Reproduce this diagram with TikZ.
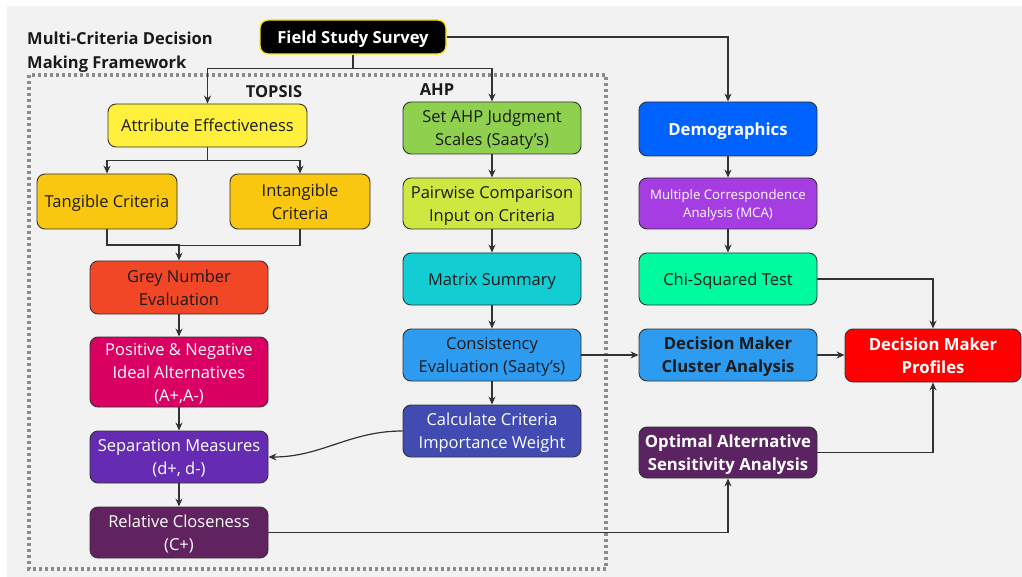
\documentclass[tikz,border=0pt]{standalone}
\usepackage{fontspec}
\setmainfont{Open Sans}
\usetikzlibrary{arrows.meta}
\definecolor{bgc}{HTML}{F2F2F2}
\definecolor{lnc}{HTML}{333333}
\definecolor{txc}{HTML}{1A1A1A}
\definecolor{cattr}{HTML}{FEF03C}
\definecolor{ctang}{HTML}{FAC710}
\definecolor{cgrey}{HTML}{F24726}
\definecolor{cpos}{HTML}{DA0063}
\definecolor{csep}{HTML}{652CB3}
\definecolor{crel}{HTML}{60235F}
\definecolor{cahp}{HTML}{8FD14F}
\definecolor{cpair}{HTML}{CEE741}
\definecolor{cmat}{HTML}{12CDD4}
\definecolor{ccons}{HTML}{2D9BF0}
\definecolor{ccalc}{HTML}{414BB2}
\definecolor{cdemo}{HTML}{0062FF}
\definecolor{cmca}{HTML}{A63DE3}
\definecolor{cchi}{HTML}{00FA9E}
\definecolor{cprof}{HTML}{FF0000}
\definecolor{copt}{HTML}{5C2363}
\definecolor{cfssb}{HTML}{FFEB1A}
\definecolor{cframe}{HTML}{8C8C8C}
\tikzset{
  box/.style={rectangle, rounded corners=8pt, draw=lnc, line width=0.9pt,
    align=center, inner sep=0pt, font=\fontsize{16.5}{23}\selectfont, text=txc},
  wbox/.style={box, text=white},
  bbox/.style={box, font=\fontsize{16.7}{23}\selectfont\bfseries},
  n1/.style={text height=14pt, text depth=1.2pt},
  n2/.style={text height=37pt, text depth=1.2pt},
  n3/.style={text height=60pt, text depth=1.2pt},
  arr/.style={draw=lnc, line width=1.2pt, -{Stealth[length=8pt,width=7pt]}},
  ln/.style={draw=lnc, line width=1.2pt},
  lbl/.style={font=\fontsize{16.5}{24}\selectfont\bfseries, text=txc, inner sep=0pt},
}
\begin{document}
\begin{tikzpicture}[x=1pt,y=-1pt]
\useasboundingbox (0,0) rectangle (1022,577);
\fill[white] (0,0) rectangle (1022,577);
\fill[bgc] (7,6) rectangle (1022,577);
\draw[cframe, line width=3.2pt, dash pattern=on 3pt off 3pt] (29,75) rectangle (606,569);

\node[lbl, anchor=west, align=left] (title) at (27,52) {Multi-Criteria Decision\\Making Framework};
\node[lbl] (topsis) at (274,92) {TOPSIS};
\node[lbl] (ahplbl) at (437,90) {AHP};

\node[box, n1, fill=black, draw=cfssb, line width=1.4pt, text=white, font=\fontsize{16.6}{23}\selectfont\bfseries,
  minimum width=186pt, minimum height=34pt] (fss) at (353,37) {Field Study Survey};

\node[box, n1, fill=cattr, minimum width=199pt, minimum height=43pt] (attr) at (207.5,125.5) {Attribute Effectiveness};
\node[box, n1, fill=ctang, minimum width=140pt, minimum height=55pt] (tang) at (107,201.5) {Tangible Criteria};
\node[box, n2, fill=ctang, minimum width=140pt, minimum height=55pt] (intang) at (300,201.5) {Intangible\\Criteria};
\node[box, n2, fill=cgrey, minimum width=178pt, minimum height=53pt] (grey) at (179,287.5) {Grey Number\\Evaluation};
\node[wbox, n3, fill=cpos, minimum width=178pt, minimum height=70pt] (pos) at (179,372) {Positive \& Negative\\Ideal Alternatives\\(A+,A-)};
\node[wbox, n2, fill=csep, minimum width=178pt, minimum height=52pt] (sep) at (179,457) {Separation Measures\\(d+, d-)};
\node[wbox, n2, fill=crel, minimum width=178pt, minimum height=51pt] (rel) at (179,532.5) {Relative Closeness\\(C+)};

\node[box, n2, fill=cahp, minimum width=178pt, minimum height=52pt] (ahp) at (492,128) {Set AHP Judgment\\Scales (Saaty’s)};
\node[box, n2, fill=cpair, minimum width=178pt, minimum height=51pt] (pair) at (492,203.5) {Pairwise Comparison\\Input on Criteria};
\node[box, n1, fill=cmat, minimum width=178pt, minimum height=52pt] (mat) at (492,279) {Matrix Summary};
\node[box, n2, fill=ccons, minimum width=178pt, minimum height=52pt] (cons) at (492,355) {Consistency\\Evaluation (Saaty’s)};
\node[wbox, n2, fill=ccalc, minimum width=178pt, minimum height=52pt] (calc) at (492,431) {Calculate Criteria\\Importance Weight};

\node[bbox, n1, fill=cdemo, text=white, minimum width=178pt, minimum height=54pt] (demo) at (728,129) {Demographics};
\node[wbox, fill=cmca, font=\fontsize{13.2}{18}\selectfont, text height=29.4pt, text depth=1pt,
  minimum width=178pt, minimum height=51pt] (mca) at (728,203.5) {Multiple Correspondence\\Analysis (MCA)};
\node[box, n1, fill=cchi, minimum width=178pt, minimum height=52pt] (chi) at (728,279) {Chi-Squared Test};
\node[bbox, n2, fill=ccons, minimum width=178pt, minimum height=52pt] (clus) at (728,355) {Decision Maker\\Cluster Analysis};
\node[bbox, n2, fill=cprof, text=white, minimum width=176pt, minimum height=53pt] (prof) at (933,355.5) {Decision Maker\\Profiles};
\node[bbox, n2, fill=copt, text=white, minimum width=178pt, minimum height=51pt] (opt) at (728,452.5) {Optimal Alternative\\Sensitivity Analysis};

% connectors
\draw[ln] (fss.south) -- ++(0,14) coordinate (fsj);
\draw[arr] (fsj) -| (attr.north);
\draw[arr] (fsj) -| (ahp.north);
\draw[arr] (fss.east) -| (demo.north);

\draw[ln] (attr.south) -- ++(0,13) coordinate (atj);
\draw[arr] (atj) -| (tang.north);
\draw[arr] (atj) -| (intang.north);
\draw[ln] (tang.south) -- ++(0,16) -| (intang.south);
\draw[arr] (tang.south |- 0,245) -| (grey.north);
\draw[arr] (grey) -- (pos);
\draw[arr] (pos) -- (sep);
\draw[arr] (sep) -- (rel);

\draw[arr] (ahp) -- (pair);
\draw[arr] (pair) -- (mat);
\draw[arr] (mat) -- (cons);
\draw[arr] (cons) -- (calc);
\draw[arr] (calc.west) to[out=180, in=0] (sep.east);

\draw[arr] (demo) -- (mca);
\draw[arr] (mca) -- (chi);
\draw[arr] (cons.east) -- (clus.west);
\draw[arr] (clus.east) -- (clus.east -| prof.west);
\draw[arr] (chi.east) -| (prof.north);
\draw[arr] (opt.east) -| (prof.south);
\draw[arr] (rel.east) -| (opt.south);
\end{tikzpicture}
\end{document}
